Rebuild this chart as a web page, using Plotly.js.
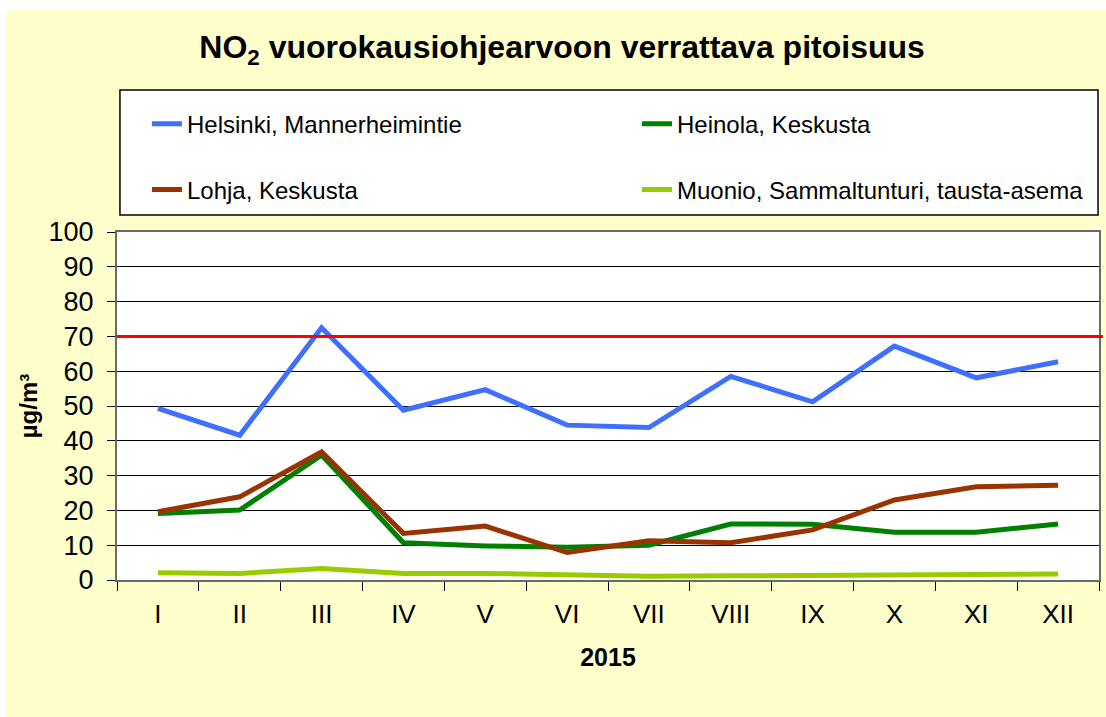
<!DOCTYPE html>
<html>
<head>
<meta charset="utf-8">
<script src="https://cdn.plot.ly/plotly-3.0.1.min.js"></script>
<style>
html,body{margin:0;padding:0;background:#ffffff;}
#chart{position:absolute;left:6px;top:10px;width:1100px;height:707px;}
</style>
</head>
<body>
<div id="chart"></div>
<script>
const months = ["I","II","III","IV","V","VI","VII","VIII","IX","X","XI","XII"];
const helsinki = [49.3, 41.6, 72.5, 48.8, 54.7, 44.5, 43.8, 58.5, 51.2, 67.2, 58.1, 62.7];
const heinola  = [19.1, 20.1, 35.9, 10.7, 9.8, 9.4, 10.0, 16.1, 16.0, 13.7, 13.7, 16.1];
const lohja    = [19.6, 23.9, 36.8, 13.4, 15.5, 7.9, 11.3, 10.7, 14.4, 23.0, 26.8, 27.2];
const muonio   = [2.1, 1.9, 3.3, 1.9, 1.9, 1.4, 1.1, 1.2, 1.4, 1.3, 1.7, 1.7];
const guideValue = 70;

const seriesNames = ["Helsinki, Mannerheimintie","Heinola, Keskusta","Lohja, Keskusta","Muonio, Sammaltunturi, tausta-asema"];
const seriesColors = ["#3F6FFF","#008000","#993300","#99CC00"];

const font = "Liberation Sans, Arial, sans-serif";

function tr(name, y, color, legend){
  return {x: months, y: y, name: name, type: "scatter", mode: "lines",
    line: {color: color, width: 5}, legend: legend};
}

const traces = [
  tr(seriesNames[0], helsinki, seriesColors[0], "legend"),
  tr(seriesNames[1], heinola, seriesColors[1], "legend2"),
  tr(seriesNames[2], lohja, seriesColors[2], "legend3"),
  tr(seriesNames[3], muonio, seriesColors[3], "legend4")
];
const ordered = [traces[3], traces[1], traces[2], traces[0]];

const legendCommon = {orientation: "h", xanchor: "left", yanchor: "middle",
  bgcolor: "rgba(0,0,0,0)", borderwidth: 0,
  font: {family: font, size: 24, color: "#000"}};

const col1 = 0.0305, col2 = 0.5295, row1 = 1.31, row2 = 1.121;

const layout = {
  width: 1100, height: 707,
  paper_bgcolor: "#FFFFCC", plot_bgcolor: "#FFFFFF",
  margin: {l: 111, r: 7, t: 222, b: 137},
  font: {family: font, color: "#000"},
  title: {text: "<b>NO<sub>2</sub> vuorokausiohjearvoon verrattava pitoisuus</b>",
    font: {family: font, size: 32, color: "#000"}, x: 0.5055, xanchor: "center", y: 0.948, yanchor: "middle"},
  xaxis: {type: "category", tickson: "boundaries", ticks: "outside", ticklen: 9, tickcolor: "#000", tickwidth: 1,
    showgrid: false, showline: true, linecolor: "#6a6a6a", linewidth: 2, mirror: true,
    tickfont: {family: font, size: 26, color: "#000"}, ticklabelstandoff: 10,
    range: [-0.5, 11.5], zeroline: false,
    title: {text: "<b>2015</b>", font: {family: font, size: 25, color: "#000"}, standoff: 20}},
  yaxis: {range: [0, 100], dtick: 10, ticks: "outside", ticklen: 8, tickcolor: "#000",
    showgrid: true, gridcolor: "#000", gridwidth: 1, zeroline: false,
    showline: true, linecolor: "#6a6a6a", linewidth: 2, mirror: true,
    tickfont: {family: font, size: 27, color: "#000"}, ticklabelstandoff: 8,
    title: {text: "<b>µg/m³</b>", font: {family: font, size: 24, color: "#000"}, standoff: 4}},
  legend: Object.assign({}, legendCommon, {x: col1, y: row1}),
  legend2: Object.assign({}, legendCommon, {x: col2, y: row1}),
  legend3: Object.assign({}, legendCommon, {x: col1, y: row2}),
  legend4: Object.assign({}, legendCommon, {x: col2, y: row2}),
  shapes: [
    {type: "rect", xref: "paper", yref: "paper", x0: 0.003, x1: 0.999, y0: 1.049, y1: 1.408,
      line: {color: "#000", width: 1.5}, fillcolor: "#FFFFFF", layer: "below"},
    {type: "line", xref: "paper", yref: "y", x0: 0, x1: 1.004, y0: guideValue, y1: guideValue,
      line: {color: "#FF0000", width: 3}}
  ],
  showlegend: true
};

Plotly.newPlot("chart", ordered, layout, {staticPlot: true, displayModeBar: false});
</script>
</body>
</html>
